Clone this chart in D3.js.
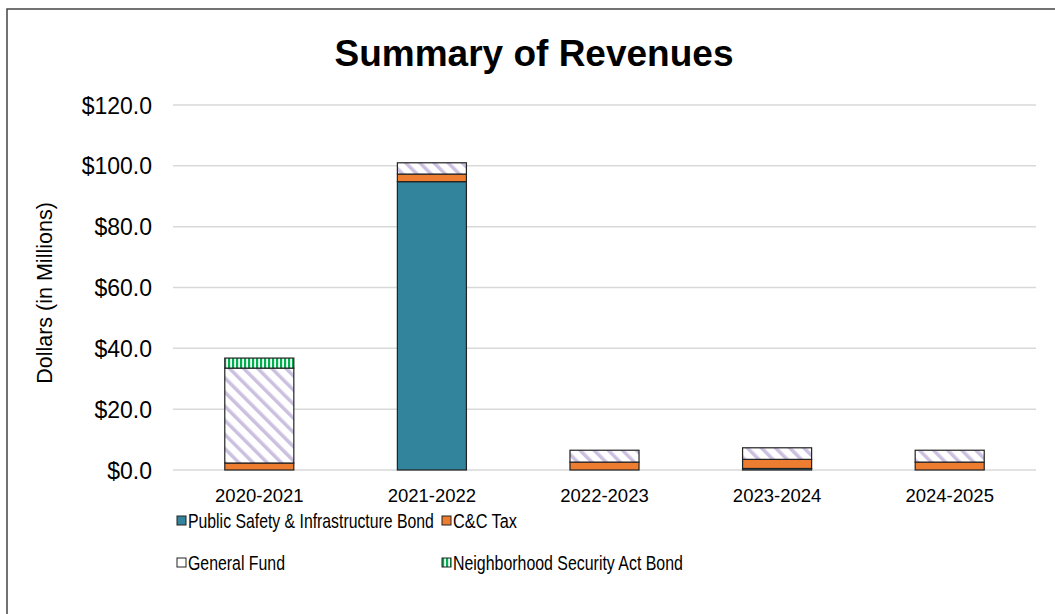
<!DOCTYPE html>
<html>
<head>
<meta charset="utf-8">
<script src="https://cdn.jsdelivr.net/npm/d3@7"></script>
<style>
  body { margin: 0; background: #fff; }
  svg text { font-family: "Liberation Sans", Arial, sans-serif; fill: #000; }
</style>
</head>
<body>
<svg width="1055" height="614"></svg>
<script>
  // data (millions of dollars)
  const years = ["2020-2021", "2021-2022", "2022-2023", "2023-2024", "2024-2025"];
  const seriesNames = ["Public Safety & Infrastructure Bond", "C&C Tax", "General Fund", "Neighborhood Security Act Bond"];
  const publicSafety = [0, 94.8, 0, 0.5, 0];
  const ccTax = [2.3, 2.5, 2.6, 3.0, 2.6];
  const generalFund = [31.2, 3.7, 3.9, 3.8, 3.9];
  const neighborhood = [3.3, 0, 0, 0, 0];
  const yTicks = [0, 20, 40, 60, 80, 100, 120];

  const width = 1055;
  const height = 614;
  const svg = d3.select("svg");

  const defs = svg.append("defs");
  const gf = defs.append("pattern")
    .attr("id", "gfPat")
    .attr("patternUnits", "userSpaceOnUse")
    .attr("width", 10).attr("height", 10)
    .attr("patternTransform", "rotate(-45)");
  gf.append("rect").attr("width", 10).attr("height", 10).attr("fill", "#fff");
  gf.append("rect").attr("x", 0).attr("width", 3.5).attr("height", 10).attr("fill", "#cbc0e0");

  const nsa = defs.append("pattern")
    .attr("id", "nsaPat")
    .attr("patternUnits", "userSpaceOnUse")
    .attr("width", 4).attr("height", 4);
  nsa.append("rect").attr("width", 4).attr("height", 4).attr("fill", "#fff");
  nsa.append("rect").attr("width", 2.2).attr("height", 4).attr("fill", "#00b050");

  const fills = ["#31849b", "#ed7d31", "url(#gfPat)", "url(#nsaPat)"];

  // chart border (left and top visible)
  svg.append("rect")
    .attr("x", 7).attr("y", 9)
    .attr("width", width + 20).attr("height", height + 20)
    .attr("fill", "none")
    .attr("stroke", "#444")
    .attr("stroke-width", 1.5);

  const x = d3.scaleBand()
    .domain(years)
    .range([173, 1036])
    .paddingInner(0.6)
    .paddingOuter(0.3);

  const y = d3.scaleLinear()
    .domain([0, 120])
    .range([470, 105]);

  // gridlines
  svg.append("g")
    .selectAll("line")
    .data(yTicks)
    .enter().append("line")
    .attr("x1", 173).attr("x2", 1036)
    .attr("y1", d => y(d)).attr("y2", d => y(d))
    .attr("stroke", "#d9d9d9")
    .attr("stroke-width", 1.5);

  // y axis labels
  const yAxis = svg.append("g")
    .attr("transform", "translate(173,0)")
    .call(d3.axisLeft(y).tickValues(yTicks).tickSize(0).tickPadding(21)
      .tickFormat(d => "$" + d3.format(".1f")(d)));
  yAxis.select(".domain").remove();
  yAxis.selectAll("text")
    .style("font-size", "23px")
    .attr("dy", "0.35em");

  // x axis labels
  const xAxis = svg.append("g")
    .attr("transform", "translate(0,470)")
    .call(d3.axisBottom(x).tickSize(0).tickPadding(19));
  xAxis.select(".domain").remove();
  xAxis.selectAll("text")
    .style("font-size", "18.5px")
    .attr("dy", "0.71em");

  // stacked bars
  const rows = years.map((yr, i) => ({
    year: yr,
    s0: publicSafety[i], s1: ccTax[i], s2: generalFund[i], s3: neighborhood[i]
  }));
  const stack = d3.stack().keys(["s0", "s1", "s2", "s3"]);
  const layers = stack(rows);

  svg.append("g")
    .selectAll("g")
    .data(layers)
    .enter().append("g")
    .attr("fill", (d, i) => fills[i])
    .selectAll("rect")
    .data(d => d.filter(p => p[1] - p[0] > 0))
    .enter().append("rect")
    .attr("x", d => x(d.data.year))
    .attr("width", x.bandwidth())
    .attr("y", d => y(d[1]))
    .attr("height", d => y(d[0]) - y(d[1]))
    .attr("stroke", "#222")
    .attr("stroke-width", 1.2);

  // title
  svg.append("text")
    .attr("x", 534).attr("y", 66)
    .attr("text-anchor", "middle")
    .style("font-size", "37px")
    .style("font-weight", "bold")
    .text("Summary of Revenues");

  // y axis title
  svg.append("text")
    .attr("transform", "translate(52,293) rotate(-90)")
    .attr("text-anchor", "middle")
    .style("font-size", "21.5px")
    .text("Dollars (in Millions)");

  // legend (text in the picture is narrower than the font, so squeeze it)
  const legendPos = [[177, 521], [442, 521], [177, 563], [442, 563]];
  const legendLen = [246, 64, 97, 230];
  const legend = svg.append("g")
    .selectAll("g")
    .data(seriesNames)
    .enter().append("g")
    .attr("transform", (d, i) => `translate(${legendPos[i][0]},${legendPos[i][1]})`);

  legend.append("rect")
    .attr("x", 0).attr("y", -5)
    .attr("width", 9).attr("height", 9)
    .attr("fill", (d, i) => i === 2 ? "#fff" : fills[i])
    .attr("stroke", "#222")
    .attr("stroke-width", 1);

  legend.append("text")
    .attr("dy", "0.35em")
    .style("font-size", "20px")
    .text(d => d)
    .each(function(d, i) {
      const w = this.getComputedTextLength();
      d3.select(this).attr("transform", `translate(11,0) scale(${legendLen[i] / w},1)`);
    });
</script>
</body>
</html>
